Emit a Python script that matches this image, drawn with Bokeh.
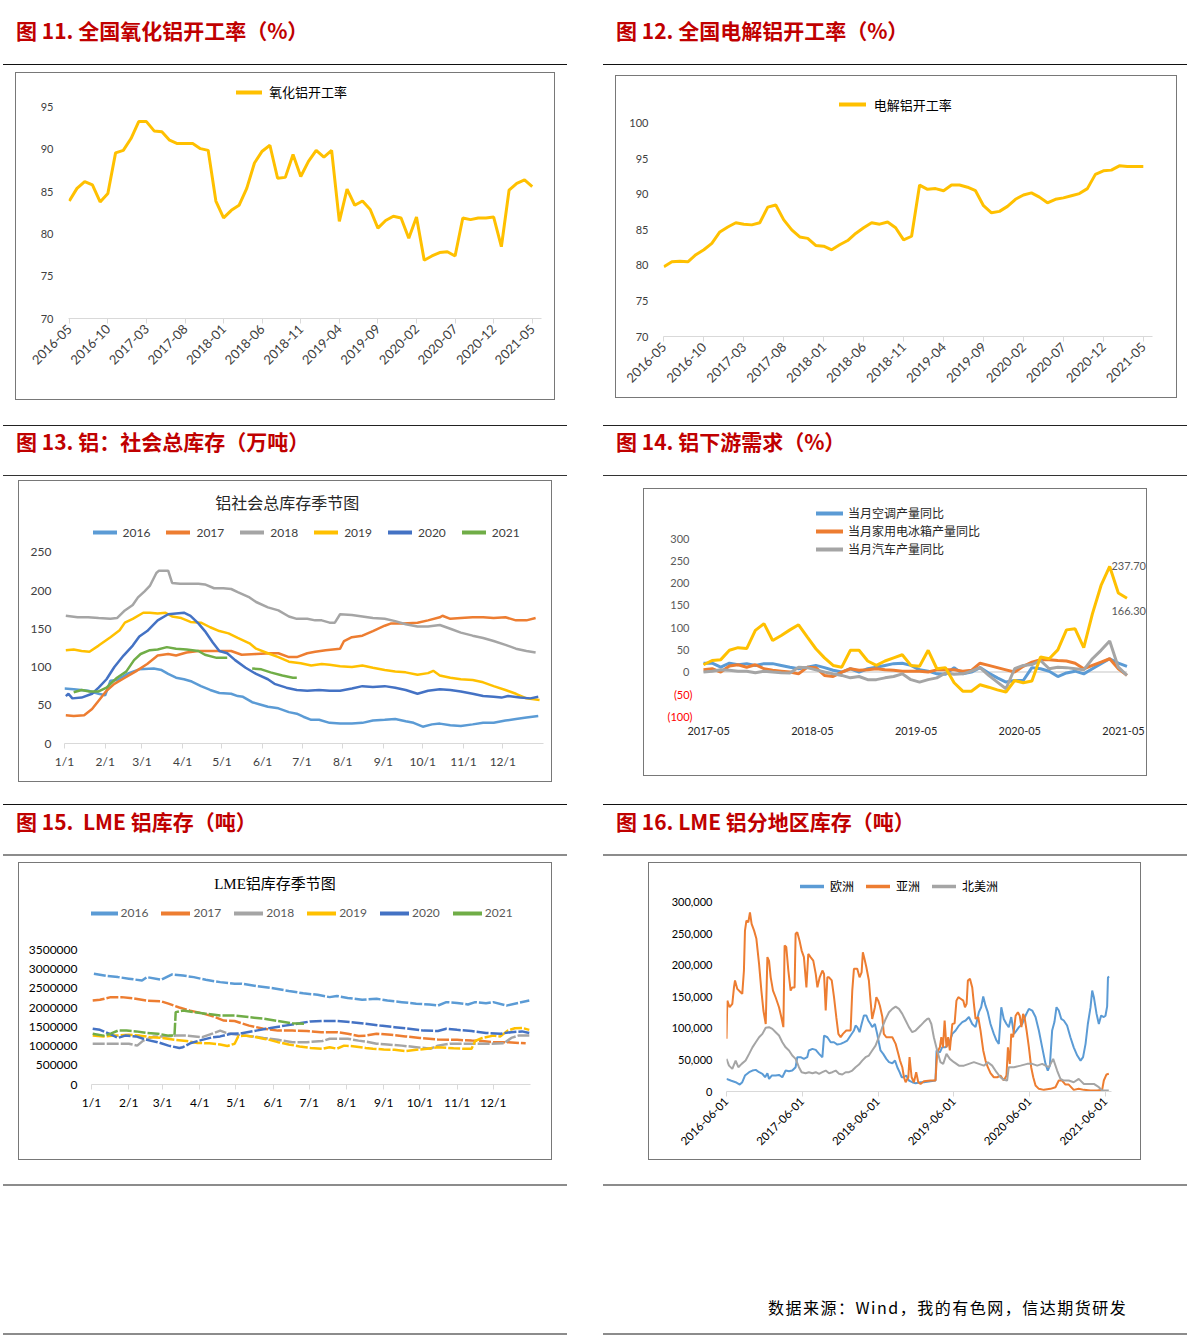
import numpy as np
import pandas as pd
from bokeh.plotting import figure
from bokeh.models import FixedTicker, Legend, LegendItem, Label, NumeralTickFormatter, Div
from bokeh.layouts import row, column
from bokeh.embed import file_html
from bokeh.resources import INLINE

CJK = "Noto Sans CJK SC"
NUM = "Lato"
SERIF_MIX = "'Liberation Serif', 'Noto Sans CJK SC'"
BLUE, ORANGE, GRAY, YELLOW, DBLUE, GREEN = "#5B9BD5", "#ED7D31", "#A5A5A5", "#FFC000", "#4472C4", "#70AD47"

# ---------------- data ----------------
# Fig 11 / 12 : monthly operating rates 2016-05 .. 2021-05
rate_months = [str(m) for m in pd.period_range("2016-05", "2021-05", freq="M")]
alumina_rate = [83.9, 85.4, 86.2, 85.8, 83.8, 84.8, 89.6, 89.9, 91.3, 93.3,
                93.3, 92.2, 92.1, 91.1, 90.7, 90.7, 90.7, 90.1, 89.9, 83.9,
                81.9, 82.8, 83.4, 85.4, 88.4, 89.8, 90.5, 86.6, 86.7, 89.4,
                86.8, 88.6, 89.9, 89.1, 89.9, 81.5, 85.3, 83.4, 83.9, 82.9,
                80.7, 81.6, 82.1, 81.9, 79.5, 82.0, 76.9, 77.4, 77.8, 77.9,
                77.4, 81.9, 81.7, 81.9, 81.9, 82.0, 78.5, 85.2, 86.0, 86.4, 85.6]
electro_rate = [79.8, 80.5, 80.6, 80.5, 81.5, 82.2, 83.1, 84.7, 85.4, 86.0,
                85.8, 85.7, 86.0, 88.2, 88.5, 86.4, 85.0, 84.0, 83.8, 82.8,
                82.7, 82.2, 82.9, 83.5, 84.5, 85.3, 86.0, 85.8, 86.1, 85.3,
                83.6, 84.1, 91.3, 90.7, 90.8, 90.5, 91.3, 91.3, 91.0, 90.5,
                88.4, 87.4, 87.6, 88.3, 89.3, 89.9, 90.2, 89.6, 88.8, 89.3,
                89.5, 89.8, 90.1, 90.8, 92.8, 93.3, 93.4, 94.0, 93.9, 93.9, 93.9]

# Fig 13 : social inventory (10k t), x = day of year
soc_years = ["2016", "2017", "2018", "2019", "2020", "2021"]
soc_day = {
    "2016": [0, 7, 18, 26, 31, 35, 40, 49, 57, 68, 74, 79, 85, 91, 97, 104, 111, 118, 127, 132, 136, 143, 149, 155, 163,
             171, 177, 182, 188, 194, 202, 210, 219, 227, 235, 244, 252, 260, 266, 273, 280, 286, 294, 302, 311, 319,
             327, 336, 344, 352, 361],
    "2017": [1, 7, 15, 21, 26, 32, 38, 46, 54, 63, 71, 79, 85, 93, 102, 110, 118, 127, 135, 146, 157, 163, 171, 177,
             185, 191, 199, 210, 213, 219, 227, 235, 244, 249, 258, 269, 277, 286, 288, 294, 302, 311, 319, 327, 336,
             344, 352, 359],
    "2018": [1, 10, 18, 26, 35, 40, 46, 52, 56, 61, 65, 70, 72, 79, 82, 88, 96, 102, 107, 114, 121, 127, 132, 141, 146,
             155, 163, 171, 177, 185, 191, 196, 202, 206, 210, 219, 227, 235, 244, 252, 260, 269, 277, 286, 294, 302,
             311, 319, 327, 336, 344, 352, 359],
    "2019": [1, 7, 13, 19, 26, 35, 42, 46, 52, 60, 65, 71, 77, 82, 89, 96, 104, 111, 118, 125, 132, 141, 146, 155, 163,
             171, 180, 188, 196, 202, 210, 219, 227, 235, 244, 252, 260, 269, 277, 281, 286, 294, 302, 311, 319, 327,
             336, 344, 352, 362],
    "2020": [1, 3, 6, 13, 21, 26, 32, 38, 45, 52, 57, 63, 71, 79, 91, 96, 102, 107, 113, 118, 124, 130, 138, 146, 155,
             160, 169, 177, 185, 194, 202, 210, 219, 227, 235, 244, 252, 260, 269, 277, 286, 294, 302, 311, 319, 327,
             333, 338, 347, 355, 361],
    "2021": [7, 13, 19, 26, 32, 40, 47, 53, 58, 65, 71, 78, 85, 93, 102, 107, 116, 124, 133, 143, 150, 157, 166, 174,
             177],
}
soc_val = {
    "2016": [72, 71, 69, 65, 63, 82, 83, 92, 97, 98, 96, 91, 86, 84, 81, 75, 70, 66, 65, 62, 61, 54, 51, 48, 46, 41, 39,
             35, 31, 31, 27, 26, 26, 27, 30, 31, 32, 29, 27, 22, 25, 26, 24, 23, 25, 27, 27, 30, 32, 34, 36],
    "2017": [37, 36, 37, 45, 56, 69, 78, 86, 94, 104, 115, 117, 115, 119, 121, 121, 121, 121, 116, 117, 118, 118, 113,
             113, 118, 120, 122, 124, 134, 139, 141, 147, 154, 157, 157, 158, 161, 165, 167, 163, 164, 165, 165, 164,
             165, 161, 161, 164],
    "2018": [167, 165, 165, 164, 163, 164, 174, 181, 191, 199, 206, 223, 226, 226, 210, 209, 209, 209, 208, 203, 203,
             202, 198, 191, 185, 178, 174, 166, 163, 163, 161, 161, 158, 158, 169, 168, 166, 164, 163, 160, 156, 153,
             153, 155, 150, 145, 141, 138, 134, 129, 124, 121, 119],
    "2019": [122, 123, 121, 120, 128, 139, 148, 158, 163, 171, 171, 170, 171, 166, 164, 159, 158, 152, 147, 144, 138,
             131, 124, 118, 113, 107, 105, 102, 104, 103, 101, 100, 102, 99, 96, 94, 93, 90, 92, 95, 89, 86, 84, 83,
             80, 75, 70, 65, 59, 57],
    "2020": [62, 65, 59, 60, 65, 73, 84, 100, 115, 128, 140, 147, 161, 169, 171, 167, 157, 147, 132, 121, 118, 109, 99,
             91, 84, 78, 73, 70, 69, 70, 69, 69, 72, 75, 74, 75, 73, 70, 65, 69, 71, 70, 68, 65, 62, 61, 60, 62, 60, 59,
             61],
    "2021": [67, 70, 68, 68, 73, 86, 94, 109, 117, 122, 123, 126, 124, 123, 121, 116, 112, 112, np.nan, 98, 97, 93, 89,
             86, 86],
}
year_colors = {"2016": BLUE, "2017": ORANGE, "2018": GRAY, "2019": YELLOW, "2020": DBLUE, "2021": GREEN}

# Fig 14 : downstream demand yoy (%), monthly 2017-04 .. 2021-05
demand_months = [str(m) for m in pd.period_range("2017-04", "2021-05", freq="M")]
demand_tick_labels = ["2017-05", "2018-05", "2019-05", "2020-05", "2021-05"]
demand_yticks = [-100, -50, 0, 50, 100, 150, 200, 250, 300]
ac_yoy = [20, 20, 11, 20, 16.5, 19, 15, 19, 19, 15, 11, 7.5, 11, 15, 10, 4, 0, 7.5, 0, 7.5,
          11, 15, 19, 20, 15, 5, 2, -4, -5, 10, -4, 0, 10, -2, -13, -22.5, -19, -19, 10, 7.5,
          2, -10, -2, 2, -4, 7.5, 19, 30, 20, 13]
fridge_yoy = [5, 7.5, 0, 13.5, 16.5, 11, 16.5, 7.5, 4, 2, 0, -4, 11, 10, -7.5, -10, 0, 7.5, 4, 5,
              7.5, 5, 4, 2, 2, 2, 0, 5, 5, 5, 2, 4, 20, 15, 10, 5, 0, 13, 22.5, 28,
              28, 26, 25, 20, 7.5, 15, 22.5, 30, 7.5, -7.5]
auto_yoy = [0, 2, 5, 4, 2, 2, -1.5, 2, 0, -1.5, -2, 11, 10, 5, 0, -4, -7.5, -13, -10, -17,
            -17, -13, -10, -4, -17, -22.5, -17, -13, -2, -5, -4, 2, 10, -7.5, -22.5, -37.5, 7.5, 15, 17, 26,
            7.5, 11, 10, 7.5, 5, 30, 49, 70, 11, -7.5]
other_yoy = [16.5, 26, 28, 49, 55, 53, 94, 109, 71, 82.5, 95, 106.5, 79, 52.5, 32, 15, 11, 49, 49, 25,
             15, 25, 32, 39, 15, 13, 49, 7.5, 10, -24, -43, -43, -28.5, -34, -40, -45, -19, -24, -20, 34,
             30, 50, 95, 97.5, 55, 131, 195, 237.7, 178, 166.3]

# Fig 15 : LME inventory (t), x = day of year
lme_day = {
    "2016": [2, 13, 22, 31, 42, 46, 58, 67, 76, 85, 95, 107, 119, 125, 137, 151, 164, 176, 188, 198, 204, 213, 225, 237,
             246, 258, 270, 281, 288, 295, 304, 313, 319, 328, 334, 345, 355, 364],
    "2017": [1, 7, 16, 25, 34, 46, 58, 64, 73, 82, 92, 101, 110, 119, 131, 143, 155, 167, 179, 191, 204, 213, 222, 228,
             237, 249, 261, 273, 288, 304, 316, 325, 334, 346, 361],
    "2018": [1, 16, 31, 38, 43, 52, 61, 70, 79, 92, 101, 107, 113, 122, 134, 143, 155, 167, 179, 192, 198, 204, 213,
             222, 231, 237, 246, 258, 270, 282, 288, 298, 307, 319, 331, 343, 349, 355, 364],
    "2019": [1, 10, 19, 31, 40, 49, 58, 70, 79, 88, 98, 107, 113, 119, 122, 128, 137, 143, 148, 155, 164, 173, 182, 192,
             198, 204, 210, 219, 228, 234, 243, 252, 261, 270, 279, 288, 301, 310, 316, 319, 325, 334, 340, 346, 352,
             358, 364],
    "2020": [1, 7, 16, 22, 28, 37, 46, 55, 64, 73, 76, 82, 92, 101, 107, 116, 125, 137, 149, 161, 173, 182, 192, 204,
             216, 228, 240, 252, 264, 276, 288, 295, 304, 316, 328, 340, 349, 358, 364],
    "2021": [1, 10, 16, 22, 29, 37, 46, 55, 64, 69, 70, 76, 85, 95, 107, 119, 131, 143, 155, 167, 178],
}
lme_mt = {  # million tonnes
    "2016": [2.88, 2.82, 2.79, 2.75, 2.70, 2.79, 2.72, 2.86, 2.83, 2.79, 2.72, 2.66, 2.62, 2.62, 2.56, 2.50, 2.43,
             2.37, 2.33, 2.27, 2.30, 2.25, 2.20, 2.23, 2.18, 2.14, 2.10, 2.08, 2.05, 2.14, 2.12, 2.08, 2.14, 2.11,
             2.14, 2.05, 2.12, 2.18],
    "2017": [2.18, 2.20, 2.27, 2.27, 2.24, 2.18, 2.16, 2.10, 2.00, 1.92, 1.85, 1.77, 1.66, 1.65, 1.53, 1.45, 1.40,
             1.40, 1.39, 1.36, 1.36, 1.32, 1.26, 1.27, 1.32, 1.29, 1.25, 1.21, 1.17, 1.16, 1.14, 1.13, 1.10, 1.10,
             1.07],
    "2018": [1.06, 1.06, 1.06, 1.01, 1.14, 1.25, 1.25, 1.27, 1.27, 1.23, 1.33, 1.40, 1.33, 1.29, 1.25, 1.21, 1.16,
             1.10, 1.10, 1.13, 1.19, 1.19, 1.19, 1.14, 1.10, 1.06, 1.04, 1.01, 0.97, 0.93, 1.01, 1.06, 1.06, 1.06,
             1.06, 1.07, 1.21, 1.27, 1.27],
    "2019": [1.27, 1.25, 1.27, 1.29, 1.27, 1.23, 1.21, 1.16, 1.13, 1.08, 1.07, 1.04, 1.00, 1.06, 1.25, 1.27, 1.23,
             1.19, 1.16, 1.10, 1.04, 0.99, 0.95, 0.93, 0.97, 0.93, 1.01, 0.99, 0.95, 0.93, 0.91, 0.90, 0.87, 0.90,
             0.93, 0.97, 0.94, 0.93, 0.93, 1.13, 1.21, 1.27, 1.25, 1.40, 1.46, 1.47, 1.42],
    "2020": [1.45, 1.42, 1.30, 1.21, 1.27, 1.25, 1.16, 1.10, 1.01, 0.95, 0.97, 1.07, 1.16, 1.23, 1.25, 1.32, 1.33,
             1.40, 1.47, 1.53, 1.59, 1.64, 1.65, 1.65, 1.62, 1.58, 1.53, 1.49, 1.45, 1.40, 1.39, 1.45, 1.42, 1.39,
             1.34, 1.32, 1.36, 1.38, 1.34],
    "2021": [1.32, 1.27, 1.32, 1.40, 1.40, 1.38, 1.34, 1.32, 1.27, 1.27, 1.88, 1.92, 1.88, 1.84, 1.79, 1.79, 1.75,
             1.71, 1.65, 1.59, 1.58],
}

# Fig 16 : LME inventory by region (thousand t), x = days since 2016-06-01
region_start = "2016-06-01"
eu_day = [0, 20, 44, 64, 76, 89, 109, 125, 141, 157, 173, 186, 197, 205, 218, 237, 253, 269, 285, 301, 317, 333, 341,
          357, 373, 389, 397, 414, 430, 446, 462, 470, 486, 502, 518, 534, 550, 566, 582, 598, 614, 622, 630, 641, 651,
          662, 674, 683, 694, 702, 715, 726, 734, 742, 755, 770, 783, 799, 812, 823, 834, 844, 855, 866, 879, 895, 911,
          935, 951, 983, 1007, 1012, 1028, 1039, 1055, 1072, 1088, 1104, 1120, 1136, 1152, 1168, 1184, 1200, 1216, 1227,
          1237, 1248, 1259, 1272, 1288, 1301, 1312, 1324, 1336, 1349, 1360, 1372, 1385, 1397, 1409, 1425, 1441, 1457,
          1473, 1489, 1505, 1521, 1537, 1548, 1558, 1569, 1580, 1590, 1601, 1613, 1625, 1641, 1657, 1673, 1690, 1706,
          1718, 1730, 1741, 1754, 1762, 1770, 1783, 1794, 1805, 1818, 1826, 1834, 1838, 1844]
eu_kt = [20, 17.4, 14.7, 11, 14.7, 25.3, 30.6, 33.2, 34.3, 30.6, 28, 22.6, 29, 20, 25.3, 25.3, 26.3, 22.6, 33.2, 32.2,
         33.2, 38.5, 54.4, 54.4, 51.7, 54.4, 65, 67.5, 66, 59.6, 54.4, 88.7, 86, 78, 78, 74.4, 75.5, 78, 80.8, 88.7,
         96.6, 104.5, 102, 94, 107, 120.4, 120.4, 112.5, 107, 102, 107, 91.3, 78, 65, 59.6, 51.7, 46.5, 44.8, 49, 38.5,
         30.6, 22.6, 22.6, 25.3, 17.4, 14.7, 13.2, 14.7, 14.7, 16.3, 17.4, 65, 62, 70, 70, 75.5, 91.3, 96.6, 104.5, 110,
         112.5, 118, 107, 102, 125.7, 133.6, 150.5, 136, 125.7, 107, 91.3, 80.8, 75.5, 133.6, 115, 107, 102, 118, 91.3,
         96.6, 102, 107, 120.4, 131, 128.3, 118, 96.6, 70, 43.8, 33.2, 41, 96.6, 110, 133.6, 128.3, 115, 112.5, 104.5,
         86, 70, 57, 49, 54.4, 75.5, 107, 133.6, 160, 149.5, 123, 107, 120.4, 118, 120, 135, 181, 182]
asia_day = [0, 4, 15, 28, 36, 41, 52, 68, 76, 84, 89, 96, 105, 113, 121, 133, 144, 157, 168, 178, 189, 197, 205, 213,
            224, 237, 253, 264, 274, 280, 288, 298, 309, 317, 328, 333, 341, 352, 362, 373, 385, 394, 405, 418, 430,
            438, 449, 462, 470, 478, 486, 494, 507, 518, 529, 539, 550, 561, 577, 590, 598, 606, 614, 630, 641, 651,
            657, 665, 674, 686, 694, 702, 715, 722, 731, 739, 751, 758, 770, 783, 799, 815, 828, 836, 847, 855, 863,
            876, 882, 892, 903, 914, 924, 935, 951, 983, 1007, 1015, 1028, 1035, 1043, 1051, 1060, 1068, 1076, 1088,
            1099, 1108, 1117, 1128, 1141, 1149, 1157, 1163, 1173, 1184, 1192, 1200, 1213, 1224, 1237, 1248, 1259, 1272,
            1288, 1304, 1320, 1336, 1349, 1356, 1365, 1372, 1381, 1393, 1404, 1413, 1421, 1429, 1436, 1446, 1457, 1468,
            1478, 1489, 1505, 1529, 1561, 1585, 1601, 1617, 1633, 1649, 1673, 1697, 1722, 1754, 1786, 1810, 1818, 1831,
            1842]
asia_kt = [83.5, 144, 133.6, 139, 165, 176, 162.6, 157.4, 154.7, 191.7, 255, 271, 268, 284, 265.7, 255, 242, 202, 160,
           128, 107, 213, 207, 181, 160, 149, 133.6, 118, 102, 231.4, 229, 191.7, 160, 165, 165, 250, 252.5, 239, 223.4,
           213, 165, 218, 213, 207.5, 186.4, 165, 181, 191.7, 186.4, 128.3, 181, 181, 176, 149.5, 117.8, 91.3, 86,
           91.3, 96.6, 96.6, 96.6, 160, 194.4, 194.4, 181, 189, 220.8, 210, 197, 176, 144, 115, 133.6, 149.5, 144, 136,
           118, 91.3, 86, 86, 86, 75.5, 59.6, 49, 38.5, 22.6, 14.7, 22.6, 54.4, 22.6, 14.7, 30.6, 14.7, 12, 16.3, 17.4,
           17.4, 62, 70, 86, 70, 112.5, 70, 86, 65, 107, 108, 144, 149.5, 147, 144, 133.6, 139, 176, 178.5, 165, 139,
           115, 118, 96.6, 65, 49, 38.5, 29, 22.6, 22.6, 25.3, 17.4, 25.3, 70, 43.8, 91.3, 86, 120, 125.7, 120, 102,
           123, 118, 96.6, 70, 38.5, 22.6, 9.4, 4.2, 2.6, 4.2, 6.8, 17.4, 17.4, 11, 11, 2.6, 4.2, 2.6, 1.5, 1.5, 2.6,
           17.4, 27, 28]
na_day = [0, 12, 28, 44, 57, 73, 92, 109, 125, 141, 157, 173, 189, 205, 221, 237, 253, 269, 285, 301, 317, 333, 349,
          362, 381, 397, 414, 430, 446, 462, 478, 494, 510, 526, 542, 558, 574, 590, 606, 622, 638, 654, 670, 686, 702,
          718, 734, 751, 767, 783, 799, 815, 831, 847, 863, 879, 895, 911, 935, 951, 967, 975, 987, 999, 1015, 1031,
          1044, 1060, 1076, 1096, 1120, 1144, 1168, 1192, 1216, 1240, 1259, 1280, 1301, 1320, 1336, 1352, 1360, 1385,
          1417, 1449, 1473, 1497, 1521, 1537, 1553, 1574, 1593, 1609, 1625, 1649, 1673, 1697, 1722, 1746, 1770, 1794,
          1810, 1834, 1842]
na_kt = [51.7, 41, 35.8, 49, 38.5, 43.8, 49, 59.6, 70, 78, 86, 91.3, 101, 102, 99.3, 94, 88.7, 78, 70, 65, 57, 51.7,
         38.5, 30.6, 29, 30.6, 29, 30.6, 28, 30.6, 33.2, 29, 30.6, 33.2, 28, 26.9, 30.6, 30.6, 33.2, 38.5, 42.7, 49,
         54.4, 57, 65, 72.8, 86, 102, 115, 125.7, 131, 134.6, 131, 123, 112.5, 102, 94, 96.6, 104.5, 110, 115, 116,
         107, 86, 65, 46.5, 43.8, 59.6, 51.7, 46.5, 41, 41, 43.8, 46.5, 43.8, 41, 46.5, 41, 30.6, 22.6, 18.4, 17.4,
         38.5, 38.5, 41, 43.8, 43.8, 41, 43.8, 41, 38.5, 51.7, 33.2, 20, 17.4, 17.4, 14.7, 20, 12, 12, 12, 6.8, 1.5,
         1.5, 1.5]
region_tick_dates = ["2016-06-01", "2017-06-01", "2018-06-01", "2019-06-01", "2020-06-01", "2021-06-01"]

month_start_labels = [f"{m}/1" for m in range(1, 13)]
month_start_days = [int(d) - 1 for d in pd.date_range("2021-01-01", periods=12, freq="MS").dayofyear]


# ---------------- helpers ----------------
def make_fig(w, h, xr, yr, left, right, top, bottom, margin):
    p = figure(width=w, height=h, x_range=xr, y_range=yr, output_backend="svg", toolbar_location=None,
               min_border_left=left, min_border_right=right, min_border_top=top, min_border_bottom=bottom,
               margin=margin, styles={"outline": "1px solid #787878"})
    p.outline_line_color = None
    p.xgrid.visible = False
    p.ygrid.visible = False
    p.background_fill_color = "white"
    p.border_fill_color = "white"
    for ax in (p.xaxis[0], p.yaxis[0]):
        ax.major_label_text_font = NUM
        ax.major_label_text_font_size = "11px"
        ax.major_label_text_color = "#404040"
        ax.minor_tick_line_color = None
    p.yaxis.axis_line_color = None
    p.yaxis.major_tick_line_color = None
    p.yaxis.major_tick_out = 0
    p.yaxis.major_tick_in = 0
    p.xaxis.axis_line_color = "#d9d9d9"
    p.xaxis.major_tick_line_color = "#d9d9d9"
    p.xaxis.major_tick_in = 0
    p.xaxis.major_tick_out = 5
    return p


def add_legend(p, items, loc, orientation="horizontal", glyph_w=28, standoff=5, spacing=10,
               font=CJK, size="12px", color="#000000", item_h=14, glyph_lw=4):
    # legend keys are drawn as solid thick strokes (as in the original) by key-only renderers
    # holding a single missing value, so they draw nothing in the plot area
    keys = []
    for l, r in items:
        k = p.line([np.nan], [np.nan], line_color=r.glyph.line_color, line_width=glyph_lw, line_cap="round")
        keys.append(LegendItem(label=l, renderers=[k]))
    lg = Legend(items=keys, location=loc,
                orientation=orientation, padding=0, margin=0, border_line_color=None,
                background_fill_alpha=0, glyph_width=glyph_w, glyph_height=item_h, label_height=item_h,
                label_standoff=standoff, spacing=spacing, label_text_font=font, label_text_font_size=size,
                label_text_color=color)
    p.add_layout(lg)


def header(text, width, height, pad, top=None, bottom=None, ml=0):
    st = {"box-sizing": "border-box"}
    if top:
        st["border-top"] = top
    if bottom:
        st["border-bottom"] = bottom
    html = ("<div style=\"font-family:'Noto Sans CJK SC';font-weight:700;font-size:21px;line-height:21px;"
            f"color:#C00000;padding:{pad}px 0 0 13px;white-space:nowrap;\">{text}</div>")
    return Div(text=html, width=width, height=height, margin=(0, 0, 0, ml), styles=st)


# ---------------- Fig 11 ----------------
p11 = make_fig(538, 326, (-0.1, 61.2), (70, 97.81), 52, 13, 10, 81, (8, 0, 26, 13))
r11 = p11.line(list(range(len(alumina_rate))), alumina_rate, line_color=YELLOW, line_width=3)
p11.yaxis.ticker = FixedTicker(ticks=[70, 75, 80, 85, 90, 95])
p11.yaxis.major_label_standoff = 15
t11 = list(range(0, len(rate_months), 5))
p11.xaxis.ticker = FixedTicker(ticks=t11)
p11.xaxis.major_label_overrides = {i: rate_months[i] for i in t11}
p11.xaxis.major_label_orientation = np.pi / 4
p11.xaxis.major_label_text_font_size = "13px"
p11.xaxis.major_label_standoff = 3
add_legend(p11, [("氧化铝开工率", r11)], (168, 217), glyph_w=26, standoff=7, size="13px")

# ---------------- Fig 12 ----------------
p12 = make_fig(560, 321, (-0.05, 61.15), (70, 104.88), 47, 24, 12, 61, (11, 0, 28, 13))
r12 = p12.line(list(range(len(electro_rate))), electro_rate, line_color=YELLOW, line_width=3)
p12.yaxis.ticker = FixedTicker(ticks=[70, 75, 80, 85, 90, 95, 100])
p12.yaxis.major_label_standoff = 15
p12.xaxis.ticker = FixedTicker(ticks=t11)
p12.xaxis.major_label_overrides = {i: rate_months[i] for i in t11}
p12.xaxis.major_label_orientation = np.pi / 4
p12.xaxis.major_label_text_font_size = "13px"
p12.xaxis.major_label_standoff = 3
add_legend(p12, [("电解铝开工率", r12)], (175.7, 222.3), glyph_w=27, standoff=8, size="13px")

# ---------------- Fig 13 ----------------
p13 = make_fig(532, 300, (0, 365), (0, 332.1), 45, 8, 8, 38, (5, 0, 23, 16))
r13 = []
for y in soc_years:
    r13.append((y, p13.line(soc_day[y], soc_val[y], line_color=year_colors[y], line_width=2.5)))
p13.yaxis.ticker = FixedTicker(ticks=[0, 50, 100, 150, 200, 250])
p13.yaxis.major_label_text_font_size = "12px"
p13.yaxis.major_label_standoff = 13
p13.xaxis.ticker = FixedTicker(ticks=month_start_days)
p13.xaxis.major_label_overrides = dict(zip(month_start_days, month_start_labels))
p13.xaxis.major_label_text_font_size = "12px"
p13.xaxis.major_label_standoff = 5
p13.add_layout(Label(x=169.8, y=316.4, text="铝社会总库存季节图", text_font=CJK, text_font_size="16px",
                     text_color="#262626", text_align="center", text_baseline="middle"))
add_legend(p13, r13, (28.6, 203.3), glyph_w=24, standoff=6, spacing=16, font=NUM, size="12px", color="#404040")

# ---------------- Fig 14 ----------------
# frame spans nearly the whole box so that tick texts and data labels stay inside it
p14 = make_fig(502, 286, (-5.90, 51.26), (-120.25, 390.7), 8, 0, 9, 50, (13, 0, 29, 41))
xi = list(range(len(demand_months)))
p14.line([xi[0], xi[-1]], [0, 0], line_color="#d9d9d9", line_width=1.5)
rb = p14.line(xi, ac_yoy, line_color=BLUE, line_width=3)
ro = p14.line(xi, fridge_yoy, line_color=ORANGE, line_width=3)
rg = p14.line(xi, auto_yoy, line_color=GRAY, line_width=3)
p14.line(xi, other_yoy, line_color=YELLOW, line_width=3)
p14.yaxis.visible = False
for v in demand_yticks:
    neg = v < 0
    p14.add_layout(Label(x=-1.27 if neg else -1.62, y=v, text=f"({abs(v)})" if neg else f"{v}",
                         text_font=NUM, text_font_size="11px", text_color="#FF0000" if neg else "#595959",
                         text_align="right", text_baseline="middle"))
t14 = [demand_months.index(m) - 0.4 for m in demand_tick_labels]
p14.xaxis.ticker = FixedTicker(ticks=t14)
p14.xaxis.major_label_overrides = dict(zip(t14, demand_tick_labels))
p14.xaxis.axis_line_color = None
p14.xaxis.major_tick_line_color = None
p14.xaxis.major_tick_out = 0
p14.xaxis.major_label_standoff = 1
p14.xaxis.major_label_text_color = "#262626"
i_pk = int(np.argmax(other_yoy))
p14.add_layout(Label(x=i_pk + 0.2, y=other_yoy[i_pk], text=f"{other_yoy[i_pk]:.2f}", text_font=NUM,
                     text_font_size="11px", text_color="#595959", text_align="left", text_baseline="middle"))
p14.add_layout(Label(x=len(other_yoy) - 2.8, y=other_yoy[-1] - 28, text=f"{other_yoy[-1]:.2f}", text_font=NUM,
                     text_font_size="11px", text_color="#595959", text_align="left", text_baseline="middle"))
add_legend(p14, [("当月空调产量同比", rb), ("当月家用电冰箱产量同比", ro), ("当月汽车产量同比", rg)],
           (164, 168), orientation="vertical", glyph_w=27, standoff=5, spacing=1, size="12px", color="#262626")

# ---------------- Fig 15 ----------------
p15 = make_fig(532, 296, (0, 365), (0, 5.534e6), 72, 21, 8, 75, (7, 0, 25, 16))
r15 = []
for y in soc_years:
    r15.append((y, p15.line(lme_day[y], [v * 1e6 for v in lme_mt[y]], line_color=year_colors[y],
                            line_width=2.5, line_dash="12 2")))
p15.yaxis.ticker = FixedTicker(ticks=[0, 500000, 1000000, 1500000, 2000000, 2500000, 3000000, 3500000])
p15.yaxis.formatter = NumeralTickFormatter(format="0")
p15.yaxis.major_label_text_font_size = "12px"
p15.yaxis.major_label_text_color = "#000000"
p15.yaxis.major_label_standoff = 14
p15.xaxis.ticker = FixedTicker(ticks=month_start_days)
p15.xaxis.major_label_overrides = dict(zip(month_start_days, month_start_labels))
p15.xaxis.major_label_text_font_size = "12px"
p15.xaxis.major_label_text_color = "#000000"
p15.xaxis.major_label_standoff = 5
p15.add_layout(Label(x=152.6, y=5.214e6, text="LME铝库存季节图", text_font=SERIF_MIX, text_font_size="15px",
                     text_color="#000000", text_align="center", text_baseline="middle"))
add_legend(p15, r15, (-2.4, 163.7), glyph_w=29, standoff=3, spacing=13, font=NUM, size="12px", color="#595959")

# ---------------- Fig 16 ----------------
base = pd.Timestamp(region_start)
t16 = [int((pd.Timestamp(d) - base).days) for d in region_tick_dates]
p16 = make_fig(491, 296, (0, 1855), (0, 348700), 77, 29, 8, 68, (7, 0, 25, 46))
re = p16.line(eu_day, [v * 1000 for v in eu_kt], line_color=BLUE, line_width=2)
ra = p16.line(asia_day, [v * 1000 for v in asia_kt], line_color=ORANGE, line_width=2)
rn = p16.line(na_day, [v * 1000 for v in na_kt], line_color=GRAY, line_width=2)
p16.yaxis.ticker = FixedTicker(ticks=[0, 50000, 100000, 150000, 200000, 250000, 300000])
p16.yaxis.formatter = NumeralTickFormatter(format="0,0")
p16.yaxis.major_label_text_color = "#000000"
p16.yaxis.major_label_standoff = 14
p16.xaxis.ticker = FixedTicker(ticks=t16)
p16.xaxis.major_label_overrides = dict(zip(t16, region_tick_dates))
p16.xaxis.major_label_orientation = np.pi / 4
p16.xaxis.major_label_text_font_size = "11.5px"
p16.xaxis.major_label_text_color = "#000000"
p16.xaxis.major_label_standoff = 3
add_legend(p16, [("欧洲", re), ("亚洲", ra), ("北美洲", rn)], (74, 196.7), glyph_w=24, standoff=6,
           spacing=12, size="12px", color="#000000", glyph_lw=3.5)

# ---------------- headers / footer / layout ----------------
h11 = header("图 11. 全国氧化铝开工率（%）", 564, 57, 12, bottom="1px solid #111")
h12 = header("图 12. 全国电解铝开工率（%）", 584, 57, 12, bottom="1px solid #111")
h13 = header("图 13. 铝：社会总库存（万吨）", 564, 51, 5, top="1px solid #222", bottom="1px solid #333")
h14 = header("图 14. 铝下游需求（%）", 584, 51, 5, top="1px solid #222", bottom="1px solid #333")
h15 = header("图 15.&nbsp; LME 铝库存（吨）", 564, 52, 6, top="1px solid #111", bottom="2px solid #8c8c8c")
h16 = header("图 16. LME 铝分地区库存（吨）", 584, 52, 6, top="1px solid #111", bottom="2px solid #8c8c8c")

foot_style = {"box-sizing": "border-box", "border-top": "2px solid #8c8c8c", "border-bottom": "2px solid #8c8c8c"}
fL = Div(text="", width=564, height=151, margin=(0, 0, 0, 0), styles=foot_style)
fR = Div(text=("<div style=\"font-family:'Noto Sans CJK SC';font-size:16px;line-height:16px;letter-spacing:1.5px;"
               "color:#000;padding:113px 0 0 165px;white-space:nowrap;\">数据来源：Wind，我的有色网，信达期货研发</div>"),
         width=584, height=151, margin=(0, 0, 0, 36), styles=foot_style)

page = column(
    row(column(h11, p11), column(h12, p12, margin=(0, 0, 0, 36))),
    row(column(h13, p13), column(h14, p14, margin=(0, 0, 0, 36))),
    row(column(h15, p15), column(h16, p16, margin=(0, 0, 0, 36))),
    row(fL, fR),
    margin=(8, 0, 0, 3),
)

open("out.html", "w").write(file_html(page, INLINE))
